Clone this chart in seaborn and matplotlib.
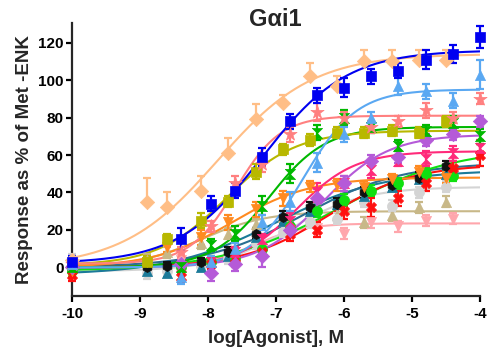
import numpy as np
import pandas as pd
import matplotlib
matplotlib.use("Agg")
import matplotlib.pyplot as plt
import seaborn as sns

# ---- data ----
grid_a = [-10, -8.4, -7.95, -7.6, -7.2, -6.8, -6.4, -6.0, -5.6, -5.2, -4.8, -4.4, -4.0]
grid_b = [-10, -8.9, -8.6, -8.1, -7.7, -7.3, -6.9, -6.5, -6.1, -5.7, -5.3, -4.9, -4.5]

names = ["khaki", "lightpink", "gray", "teal", "black", "brightgreen", "red", "orange",
         "magenta", "purple", "green", "olive", "salmon", "lightblue", "peach", "blue"]

colors = {"blue": "#0000F0", "peach": "#FFBE86", "lightblue": "#5AA8F2", "salmon": "#FF8080",
          "olive": "#B8B800", "green": "#00B800", "purple": "#B55AD8", "magenta": "#FF2A7A",
          "red": "#FF1010", "orange": "#FF8A20", "black": "#111111", "teal": "#1B7A99",
          "brightgreen": "#10E010", "gray": "#D4D4D4", "khaki": "#C8B888", "lightpink": "#FFA6AC"}
curve_colors = dict(colors, black="#2B6E92")

hourglass = [(-1, 1), (1, 1), (-1, -1), (1, -1), (-1, 1)]
markers = {"blue": "s", "peach": "D", "lightblue": "^", "salmon": "*", "olive": "s",
           "green": hourglass, "purple": "D", "magenta": hourglass, "red": "X",
           "orange": "v", "black": "h", "teal": "^", "brightgreen": "o", "gray": "o",
           "khaki": "^", "lightpink": "v"}

xs = {"blue": grid_a, "peach": grid_b, "lightblue": grid_a, "salmon": grid_a, "olive": grid_b,
      "green": grid_a, "purple": grid_a, "magenta": grid_a, "red": grid_a, "orange": grid_b,
      "black": grid_b, "teal": grid_b, "brightgreen": grid_a[:-1], "gray": grid_b,
      "khaki": grid_b, "lightpink": grid_a[:-1]}

blue_y = [3, 15, 34, 41, 59, 78, 92, 96, 102, 105, 111, 114, 123]
peach_y = [4, 35, 32, 41, 61, 79, 88, 102, 97, 110, 110, 111, 111]
lightblue_y = [2, -5, 3, 10, 24, 35, 56, 71, 80, 97, 94, 89, 103]
salmon_y = [2, 8, 22, 45, 55, 71, 83, 80, 75, 78, 84, 80, 90]
olive_y = [2, 3, 15, 25, 35, 51, 63, 68, 72, 72, 73, 72, 78]
green_y = [0, 0, 12, 18, 33, 50, 72, 80, 75, 65, 73, 77, 70]
purple_y = [0, 2, -3, 2, 6, 20, 37, 45, 57, 59, 68, 71, 78]
magenta_y = [2, 1, 3, 8, 15, 25, 40, 45, 52, 57, 58, 61, 64]
red_y = [-4, -5, 2, 5, 8, 18, 20, 30, 32, 37, 45, 53, 60]
orange_y = [-2, 3, 11, 16, 24, 31, 37, 43, 44, 43, 47, 51, 48]
black_y = [0, 0, 1, 3, 8, 18, 27, 32, 34, 40, 44, 48, 54]
teal_y = [0, -2, -3, 0, 6, 16, 25, 30, 34, 38, 43, 47, 50]
brightgreen_y = [-2, 0, 3, 5, 10, 22, 30, 36, 41, 45, 50, 49]
gray_y = [4, -3, -2, 1, 5, 13, 19, 24, 26, 35, 33, 40, 43]
khaki_y = [2, 4, 8, 13, 18, 23, 27, 25, 28, 24, 28, 32, 35]
lightpink_y = [2, 4, 0, 3, 10, 20, 21, 18, 24, 22, 25, 26]

ys = {"blue": blue_y, "peach": peach_y, "lightblue": lightblue_y, "salmon": salmon_y,
      "olive": olive_y, "green": green_y, "purple": purple_y, "magenta": magenta_y,
      "red": red_y, "orange": orange_y, "black": black_y, "teal": teal_y,
      "brightgreen": brightgreen_y, "gray": gray_y, "khaki": khaki_y, "lightpink": lightpink_y}

blue_e = [3, 6, 4, 4, 5, 4, 4, 5, 4, 4, 5, 5, 6]
peach_e = [2, 13, 8, 8, 8, 8, 4, 7, 5, 6, 6, 5, 5]
lightblue_e = [2, 4, 3, 3, 4, 5, 5, 4, 3, 5, 4, 4, 8]
salmon_e = [2, 3, 3, 4, 4, 4, 5, 3, 3, 3, 4, 3, 3]
olive_e = [2, 3, 3, 4, 3, 4, 3, 3, 3, 3, 3, 3, 3]
green_e = [2, 2, 3, 4, 5, 5, 4, 4, 3, 3, 3, 4, 4]
purple_e = [2, 2, 4, 4, 6, 4, 5, 4, 3, 3, 3, 3, 3]
magenta_e = [2, 2, 2, 3, 3, 4, 5, 4, 4, 3, 4, 4, 4]
red_e = [3, 3, 3, 3, 3, 4, 4, 4, 5, 4, 4, 4, 6]
orange_e = [2, 3, 3, 4, 4, 4, 4, 3, 3, 3, 3, 3, 3]
black_e = [2, 2, 2, 2, 3, 3, 3, 3, 3, 3, 3, 3, 3]
teal_e = [2] * 13
brightgreen_e = [3] * 12
gray_e = [3] * 13
khaki_e = [3] * 13
lightpink_e = [3] * 12
errs = {"blue": blue_e, "peach": peach_e, "lightblue": lightblue_e, "salmon": salmon_e,
        "olive": olive_e, "green": green_e, "purple": purple_e, "magenta": magenta_e,
        "red": red_e, "orange": orange_e, "black": black_e, "teal": teal_e,
        "brightgreen": brightgreen_e, "gray": gray_e, "khaki": khaki_e, "lightpink": lightpink_e}

# fitted curve parameters read from the drawn fits: bottom, top, logEC50, hill slope
fit_params = {"blue": (2, 116, -7.2, 0.7), "peach": (0, 114, -7.86, 0.62),
              "lightblue": (0, 95, -6.6, 1.1), "salmon": (2, 81, -7.6, 1.3),
              "olive": (1, 73, -7.73, 0.85), "green": (0, 75, -7.1, 1.05),
              "purple": (0, 71, -6.3, 0.9), "magenta": (0, 62, -6.7, 1.0),
              "red": (0, 55, -6.24, 0.7), "orange": (0, 48, -7.65, 0.755),
              "black": (0, 56, -6.6, 0.6), "teal": (-4, 52, -7.0, 0.55),
              "brightgreen": (-2, 64, -6.1, 0.5), "gray": (-2, 43, -6.8, 0.8),
              "khaki": (0, 30, -8.1, 0.9), "lightpink": (1, 23.5, -7.3, 1.2)}

xticks = [-10, -9, -8, -7, -6, -5, -4]
yticks = [0, 20, 40, 60, 80, 100, 120]

# ---- plot ----
sns.set_style("ticks")
plt.rcParams['font.family'] = ['Liberation Sans', 'DejaVu Sans']
plt.rcParams['font.weight'] = 'bold'

fig = plt.figure(figsize=(4.88, 3.49), dpi=100)
ax = fig.add_axes([72 / 488, 53.5 / 349, 408 / 488, 272.5 / 349])

xfit = np.linspace(-10, -4, 300)
for n in names:
    b, t, e, h = fit_params[n]
    yfit = b + (t - b) / (1 + 10 ** ((e - xfit) * h))
    sns.lineplot(x=xfit, y=yfit, ax=ax, color=curve_colors[n], lw=1.5, legend=False, zorder=2)

for n in names:
    x = np.array(xs[n]); y = np.array(ys[n]); er = np.array(errs[n])
    if n == "peach":
        yerr = [np.zeros_like(er), er]
    else:
        yerr = er
    ms = 10 if n == "salmon" else 7.3
    ax.errorbar(x, y, yerr=yerr, fmt='none', ecolor=colors[n], elinewidth=1.6,
                capsize=3.2, capthick=1.6, clip_on=False, zorder=3)
    sns.scatterplot(x=x, y=y, ax=ax, color=colors[n], marker=markers[n],
                    s=ms ** 2, edgecolor=colors[n], linewidth=0.5, legend=False,
                    zorder=4, clip_on=False)

ax.set_xlim(-10, -4)
ax.set_ylim(-15, 130.5)
ax.set_xticks(xticks)
ax.set_yticks(yticks)
ax.set_xticklabels([str(v) for v in xticks], fontsize=11, fontweight='bold')
ax.set_yticklabels([str(v) for v in yticks], fontsize=11, fontweight='bold')
for s in ["top", "right"]:
    ax.spines[s].set_visible(False)
for s in ["left", "bottom"]:
    ax.spines[s].set_linewidth(1.6)
ax.tick_params(axis='x', width=1.6, length=4, pad=4, colors='black')
ax.tick_params(axis='y', width=1.6, length=4, pad=2, colors='black')
ax.set_xlabel("log[Agonist], M", fontsize=13.5, fontweight='bold', labelpad=7)
ax.set_ylabel("Response as % of Met -ENK", fontsize=13.5, fontweight='bold', labelpad=4)
fig.text(0.565, 0.943, "Gαi1", ha='center', va='center', fontsize=17, fontweight='bold')

fig.savefig("out.png", dpi=100)
